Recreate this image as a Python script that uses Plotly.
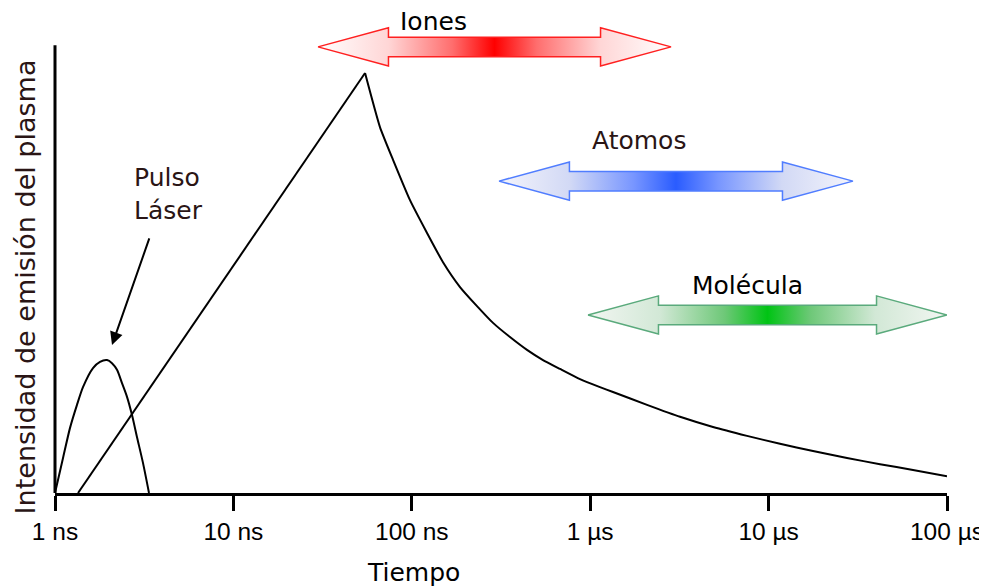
import math
import plotly.graph_objects as go

# ---------------- data ----------------
tick_vals = [1, 10, 100, 1000, 10000, 100000]          # time in ns
tick_text = ["1 ns", "10 ns", "100 ns", "1 µs", "10 µs", "100 µs"]

pulse_t = [1.0, 1.109, 1.214, 1.328, 1.435, 1.633, 1.787, 1.957, 2.087, 2.226, 2.374,
           2.533, 2.702, 2.882, 3.113, 3.365]
pulse_v = [0, 7.9, 14.7, 19.9, 23.9, 28.2, 29.6, 30.0, 29.3, 27.8, 24.8,
           21.7, 17.6, 12.6, 6.8, 0]

emission_t = [1.346, 54.7, 66.3, 78.5, 97.7, 121.7, 149.6, 186.3, 232.0, 285.3, 355.1,
              442.3, 543.8, 677.2, 876.6, 1134, 1342, 2082, 3188, 4879, 7568, 11585,
              17742, 27511, 42116, 64493, 100000]
emission_v = [0, 94.8, 82.6, 75.2, 66.1, 58.7, 52.1, 46.5, 42.2, 38.4, 35.2,
              32.3, 30.0, 28.0, 25.7, 23.9, 22.8, 19.9, 17.2, 14.9, 12.9, 11.1,
              9.5, 7.9, 6.5, 5.2, 3.8]

species = ["Iones", "Atomos", "Molécula"]
species_start = [29.8, 308, 972]          # ns
species_end = [2838, 29700, 100000]       # ns
species_level = [100.7, 70.4, 40.2]       # emission-intensity units

# ---------------- styles ----------------
arrow_line = ["rgb(255,32,32)", "rgb(80,125,255)", "rgb(90,170,124)"]
arrow_mid = ["rgb(255,0,0)", "rgb(42,92,255)", "rgb(0,196,20)"]
arrow_half = ["rgb(255,110,110)", "rgb(120,150,255)", "rgb(110,200,120)"]
arrow_soft = ["rgb(255,214,214)", "rgb(210,217,245)", "rgb(210,232,214)"]
arrow_edge = ["rgb(255,255,255)", "rgb(244,244,251)", "rgb(242,246,242)"]
label_t = [133, 1877, 7568]
label_dv = [5.8, 9.2, 6.6]
HEAD_DEC = 0.395     # arrow head length in decades
HEAD_H = 4.3         # arrow head half height
SHAFT_H = 2.2        # shaft half height
TXT = "#2a1515"
FONT = "DejaVu Sans"

fig = go.Figure()

# gradient double arrows
for i, name in enumerate(species):
    a, b, v = species_start[i], species_end[i], species_level[i]
    ha = a * 10 ** HEAD_DEC
    hb = b / 10 ** HEAD_DEC
    xs = [a, ha, ha, hb, hb, b, hb, hb, ha, ha, a]
    ys = [v, v + HEAD_H, v + SHAFT_H, v + SHAFT_H, v + HEAD_H, v,
          v - HEAD_H, v - SHAFT_H, v - SHAFT_H, v - HEAD_H, v]
    fig.add_trace(go.Scatter(
        x=xs, y=ys, mode="lines", fill="toself",
        line=dict(color=arrow_line[i], width=1.5),
        fillgradient=dict(type="horizontal", colorscale=[
            [0, arrow_edge[i]], [0.2, arrow_soft[i]], [0.38, arrow_half[i]],
            [0.5, arrow_mid[i]], [0.62, arrow_half[i]], [0.8, arrow_soft[i]],
            [1, arrow_edge[i]]]),
        hoverinfo="skip", showlegend=False))
    fig.add_annotation(x=math.log10(label_t[i]), y=v + label_dv[i],
                       xref="x", yref="y", text=name, showarrow=False,
                       font=dict(family=FONT, size=25,
                                 color=("#000000" if i != 1 else TXT)),
                       xanchor="center", yanchor="middle")

# laser pulse
fig.add_trace(go.Scatter(x=pulse_t, y=pulse_v, mode="lines",
                         line=dict(color="black", width=2, shape="spline", smoothing=0.7),
                         hoverinfo="skip", showlegend=False))
# plasma emission: linear rise, smooth decay
fig.add_trace(go.Scatter(x=emission_t[:2], y=emission_v[:2], mode="lines",
                         line=dict(color="black", width=2),
                         hoverinfo="skip", showlegend=False))
fig.add_trace(go.Scatter(x=emission_t[1:], y=emission_v[1:], mode="lines",
                         line=dict(color="black", width=2, shape="spline", smoothing=0.5),
                         hoverinfo="skip", showlegend=False))

# "Pulso Láser" label + arrow
fig.add_annotation(x=math.log10(2.087), y=33.4, ax=math.log10(3.4), ay=57.8,
                   xref="x", yref="y", axref="x", ayref="y",
                   text="", showarrow=True, arrowhead=2, arrowsize=1.3,
                   arrowwidth=2, arrowcolor="black")
fig.add_annotation(x=math.log10(2.7), y=67.5, xref="x", yref="y",
                   text="Pulso<br>Láser", showarrow=False, align="left",
                   xanchor="left", yanchor="middle",
                   font=dict(family=FONT, size=25, color=TXT))

# axis titles
fig.add_annotation(x=math.log10(102), y=-0.164, xref="x", yref="paper",
                   text="Tiempo", showarrow=False, yanchor="middle",
                   font=dict(family=FONT, size=25, color="black"))
fig.add_annotation(x=-0.0332, y=0.4265, xref="paper", yref="paper",
                   text="Intensidad de emisión del plasma", showarrow=False,
                   textangle=-90, xanchor="center", yanchor="middle",
                   font=dict(family=FONT, size=27, color=TXT))

# y axis line (shorter than the plot area so arrows above can show)
fig.add_shape(type="line", xref="paper", yref="y", x0=0, x1=0, y0=0, y1=101.1,
              line=dict(color="black", width=3))

fig.update_xaxes(type="log", range=[0, 5], tickvals=tick_vals, ticktext=tick_text,
                 showline=True, linecolor="black", linewidth=3,
                 ticks="outside", ticklen=15, tickwidth=3, tickcolor="black",
                 showgrid=False, zeroline=False, automargin=False,
                 tickfont=dict(family="Liberation Sans", size=24.5, color="black"))
fig.update_yaxes(range=[0, 109.03], showline=False, showgrid=False, zeroline=False,
                 showticklabels=False, ticks="", automargin=False)

# the page body adds an 8 px offset; the figure is sized to fit the window
fig.update_layout(width=979, height=580, plot_bgcolor="white", paper_bgcolor="white",
                  margin=dict(l=47, r=40, t=2, b=95))

fig.write_html("out.html")
